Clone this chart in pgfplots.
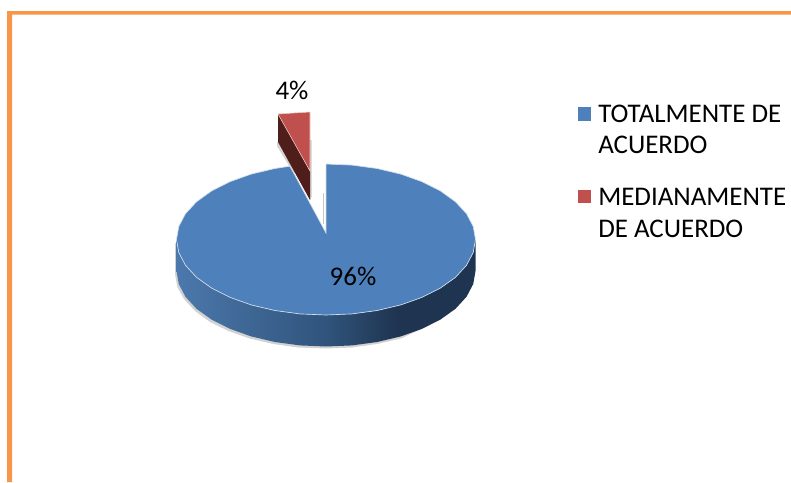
\documentclass[border=0pt]{standalone}
\usepackage{fontspec}
\setmainfont{Carlito}
\usepackage{pgfplots}
\pgfplotsset{compat=1.18}
\definecolor{frame}{RGB}{247,150,70}
\definecolor{blue1}{RGB}{78,128,188}
\definecolor{red1}{RGB}{192,80,77}
\definecolor{redside}{RGB}{79,30,27}
\definecolor{sidea}{RGB}{76,120,172}
\definecolor{sideb}{RGB}{48,84,124}
\definecolor{sidec}{RGB}{31,52,80}
\pgfdeclarehorizontalshading{sideshade}{100bp}{
  color(0bp)=(sidea);
  color(25bp)=(sidea);
  color(50bp)=(sideb);
  color(62bp)=(sidec);
  color(75bp)=(sidec);
  color(100bp)=(sidec)}
\newcommand{\lab}{\fontsize{20.2}{24}\selectfont}
\begin{document}
\begin{tikzpicture}
\begin{axis}[
    scale only axis, width=593.25pt, height=361.5pt,
    xmin=0, xmax=791, ymin=0, ymax=482, y dir=reverse,
    hide axis, clip=true,
]
% page frame
\addplot[draw=none, fill=frame] coordinates {(7,11) (791,11) (791,14.5) (12,14.5) (12,482) (7,482)} -- cycle;
% soft shadow under the pie side
\addplot[draw=none, fill=gray!35] coordinates {
 (175,243) (175,274) (177.3,287) (184,299) (195,311) (210,322) (228.4,331)
 (249.7,338.5) (273.4,344) (298,347.5) (326,348.5) (352,347.5) (377,344) (401,338.5) (430,325)
 (400,300) (326,300) (200,260)} -- cycle;
% pie side, gradient
\addplot[draw=none, shade, shading=sideshade] coordinates {
 (475.5,239.5) (473.2,252.6) (466.5,265.3) (455.5,277.3) (440.5,288.0) (422.1,297.3) (400.8,304.9)
 (377.1,310.5) (352.0,313.9) (326,315) (300.0,313.9) (274.9,310.5) (251.2,304.9) (229.9,297.3)
 (211.5,288.0) (196.5,277.3) (185.5,265.3) (178.8,252.6) (176.5,239.5)
 (176.5,271) (178.8,284.1) (185.5,296.8) (196.5,308.8) (211.5,319.5) (229.9,328.8) (251.2,336.4)
 (274.9,342) (300,345.4) (326,346.5) (352,345.4) (377.1,342) (400.8,336.4) (422.1,328.8) (440.5,319.5)
 (455.5,308.8) (466.5,296.8) (473.2,284.1) (475.5,271)} -- cycle;
% 96 % slice, top face
\addplot[draw=white!75!blue1, line width=0.5pt, fill=blue1] coordinates {
 (326,233) (326,164) (352.0,165.1) (377.1,168.5) (400.8,174.1) (422.1,181.7) (440.5,191.0)
 (455.5,201.8) (466.5,213.7) (473.2,226.4) (475.5,239.5) (473.2,252.6) (466.5,265.3) (455.5,277.3)
 (440.5,288.0) (422.1,297.3) (400.8,304.9) (377.1,310.5) (352.0,313.9) (326,315) (300.0,313.9)
 (274.9,310.5) (251.2,304.9) (229.9,297.3) (211.5,288.0) (196.5,277.3) (185.5,265.3) (178.8,252.6)
 (176.5,239.5) (178.8,226.4) (185.5,213.7) (196.5,201.8) (211.5,191.0) (229.9,181.7) (251.2,174.1)
 (274.9,168.5) (290,166.2)} -- cycle;
% small shadows of the 4 % slice
\addplot[draw=gray!45, line width=0.8pt] coordinates {(323.5,193) (323.5,224)};
\addplot[draw=none, fill=gray!40] coordinates {(310,140) (311.5,140) (311.5,197) (310,200)} -- cycle;
\addplot[draw=none, fill=gray!35] coordinates {(278,142) (277,142) (277,146) (294,174) (296,170)} -- cycle;
% 4 % slice, side then top face
\addplot[draw=none, fill=redside] coordinates {(278,114) (310,171) (310,200) (278,142)} -- cycle;
\addplot[draw=white!70!red1, line width=0.4pt, fill=red1] coordinates {(278,114) (310,112) (310,171)} -- cycle;
% legend keys
\addplot[draw=none, fill=blue1] coordinates {(578,107) (591,107) (591,121) (578,121)} -- cycle;
\addplot[draw=none, fill=red1] coordinates {(578,190) (591,190) (591,203) (578,203)} -- cycle;
% labels
\node[anchor=base, inner sep=0pt] at (axis cs:353,285) {\lab 96\%};
\node[anchor=base, inner sep=0pt] at (axis cs:292,99) {\lab 4\%};
\node[anchor=base west, inner sep=0pt] at (axis cs:598,122) {\lab TOTALMENTE DE};
\node[anchor=base west, inner sep=0pt] at (axis cs:598,153) {\lab ACUERDO};
\node[anchor=base west, inner sep=0pt] at (axis cs:598,205) {\lab MEDIANAMENTE};
\node[anchor=base west, inner sep=0pt] at (axis cs:598,237) {\lab DE ACUERDO};
\path[use as bounding box] (axis cs:0,0) rectangle (axis cs:791,482);
\end{axis}
\end{tikzpicture}
\end{document}
